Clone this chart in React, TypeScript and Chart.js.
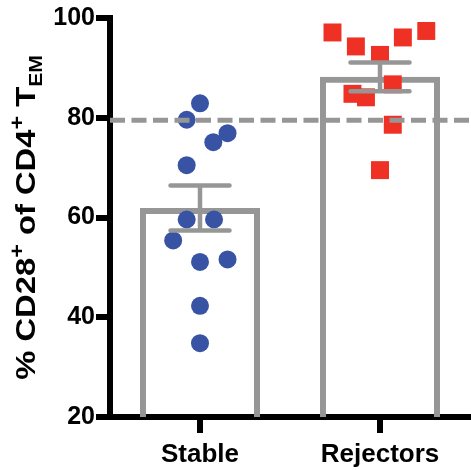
import React, { useEffect, useRef } from 'react';
import { Chart, registerables } from 'chart.js';

Chart.register(...registerables);

const categories = ['Stable', 'Rejectors'];
const meanValues = [61.9, 88.2];
const semValues = [4.5, 2.9];
const thresholdValue = 79.5;

const stableValues = [82.9, 79.6, 76.9, 75.1, 70.5, 59.6, 59.6, 55.4, 51.1, 51.6, 42.3, 34.8];
const stableJitter = [0, -0.074, 0.153, 0.074, -0.074, -0.074, 0.078, -0.149, 0, 0.153, 0, 0];

const rejectorValues = [97.1, 94.3, 92.6, 96.1, 97.4, 86.7, 84.8, 84.1, 78.6, 69.5];
const rejectorJitter = [-0.264, -0.134, 0, 0.127, 0.257, 0.071, -0.153, -0.078, 0.071, 0];

const yTicks = [20, 40, 60, 80, 100];

const GRAY = '#969696';
const BLUE = '#3953A4';
const RED = '#EE3124';
const FONT = '"Liberation Sans", Arial, Helvetica, sans-serif';

export default function App() {
  const ref = useRef<HTMLCanvasElement>(null);

  useEffect(() => {
    const canvas = ref.current;
    if (!canvas) return;

    const overlayPlugin = {
      id: 'overlay',
      afterDatasetsDraw(chart: any) {
        const { ctx, chartArea } = chart;
        const x = chart.scales.x;
        const y = chart.scales.y;
        ctx.save();
        // threshold dashed line
        const ty = y.getPixelForValue(thresholdValue);
        ctx.strokeStyle = GRAY;
        ctx.lineWidth = 5;
        ctx.setLineDash([15, 6.5]);
        ctx.beginPath();
        ctx.moveTo(chartArea.left, ty);
        ctx.lineTo(chartArea.right + 1, ty);
        ctx.stroke();
        ctx.setLineDash([]);
        // error bars (mean ± SEM)
        ctx.lineWidth = 4.5;
        meanValues.forEach((m, i) => {
          const cx = x.getPixelForValue(i);
          const top = y.getPixelForValue(m + semValues[i]);
          const bot = y.getPixelForValue(m - semValues[i]);
          ctx.lineCap = 'butt';
          ctx.beginPath();
          ctx.moveTo(cx, top);
          ctx.lineTo(cx, bot);
          ctx.stroke();
          ctx.lineCap = 'round';
          ctx.beginPath();
          ctx.moveTo(cx - 29.5, top);
          ctx.lineTo(cx + 29.5, top);
          ctx.moveTo(cx - 29.5, bot);
          ctx.lineTo(cx + 29.5, bot);
          ctx.stroke();
        });
        ctx.restore();
      },
      afterDraw(chart: any) {
        const { ctx, chartArea } = chart;
        const parts = [
          { t: '% CD28', size: 28, shift: 0 },
          { t: '+', size: 20, shift: -11 },
          { t: ' of CD4', size: 28, shift: 0 },
          { t: '+', size: 20, shift: -11 },
          { t: ' T', size: 28, shift: 0 },
          { t: 'EM', size: 18, shift: 7 },
        ];
        const sx = 1.17;
        ctx.save();
        let total = 0;
        parts.forEach((p) => {
          ctx.font = `bold ${p.size}px ${FONT}`;
          total += ctx.measureText(p.t).width;
        });
        const centerY = (chartArea.top + chartArea.bottom) / 2;
        ctx.translate(35, centerY);
        ctx.rotate(-Math.PI / 2);
        ctx.scale(sx, 1);
        ctx.fillStyle = '#000';
        ctx.textBaseline = 'alphabetic';
        ctx.textAlign = 'left';
        let cur = -total / 2;
        parts.forEach((p) => {
          ctx.font = `bold ${p.size}px ${FONT}`;
          ctx.fillText(p.t, cur, p.shift);
          cur += ctx.measureText(p.t).width;
        });
        ctx.restore();
      },
    };

    const chart = new Chart(canvas, {
      type: 'bar',
      data: {
        datasets: [
          {
            type: 'bar',
            data: meanValues.map((v, i) => ({ x: i, y: v })),
            backgroundColor: 'rgba(255,255,255,0)',
            borderColor: GRAY,
            borderWidth: 6,
            barPercentage: 0.667,
            categoryPercentage: 1,
            grouped: false,
            order: 2,
          } as any,
          {
            type: 'scatter',
            data: stableValues.map((v, i) => ({ x: 0 + stableJitter[i], y: v })),
            pointStyle: 'circle',
            pointRadius: 9,
            backgroundColor: BLUE,
            borderWidth: 0,
            order: 1,
          } as any,
          {
            type: 'scatter',
            data: rejectorValues.map((v, i) => ({ x: 1 + rejectorJitter[i], y: v })),
            pointStyle: 'rect',
            pointRadius: 12.7,
            backgroundColor: RED,
            borderWidth: 0,
            order: 1,
          } as any,
        ],
      },
      options: {
        responsive: false,
        animation: false,
        events: [],
        layout: { autoPadding: false, padding: { top: 18, right: 1, left: 0, bottom: 0 } },
        plugins: { legend: { display: false }, tooltip: { enabled: false } },
        scales: {
          x: {
            type: 'linear',
            min: -0.5,
            max: 1.5,
            offset: false,
            afterBuildTicks: (s: any) => {
              s.ticks = categories.map((_, i) => ({ value: i }));
            },
            grid: {
              offset: false,
              drawOnChartArea: false,
              drawTicks: true,
              tickLength: 16,
              lineWidth: 6,
              color: '#000',
            },
            border: { display: true, width: 6, color: '#000' },
            ticks: {
              color: '#000',
              font: { family: FONT, size: 26, weight: 'bold' },
              padding: 6,
              maxRotation: 0,
              autoSkip: false,
              callback: (v: any) => categories[Math.round(Number(v))] ?? '',
            },
            afterFit: (s: any) => {
              s.height = 53;
            },
          },
          y: {
            type: 'linear',
            min: yTicks[0],
            max: yTicks[yTicks.length - 1],
            beginAtZero: false,
            afterBuildTicks: (s: any) => {
              s.ticks = yTicks.map((v) => ({ value: v }));
            },
            ticks: {
              color: '#000',
              font: { family: FONT, size: 25, weight: 'bold' },
              padding: 1,
            },
            grid: {
              drawOnChartArea: false,
              drawTicks: true,
              tickLength: 14,
              lineWidth: 6,
              color: '#000',
            },
            border: { display: true, width: 6, color: '#000' },
            afterFit: (s: any) => {
              s.width = 110;
            },
          },
        },
      } as any,
      plugins: [overlayPlugin],
    });

    return () => chart.destroy();
  }, []);

  return (
    <div style={{ position: 'fixed', left: 0, top: 0, width: 471, height: 470, background: '#fff' }}>
      <canvas ref={ref} width={471} height={470} style={{ display: 'block' }} />
    </div>
  );
}
